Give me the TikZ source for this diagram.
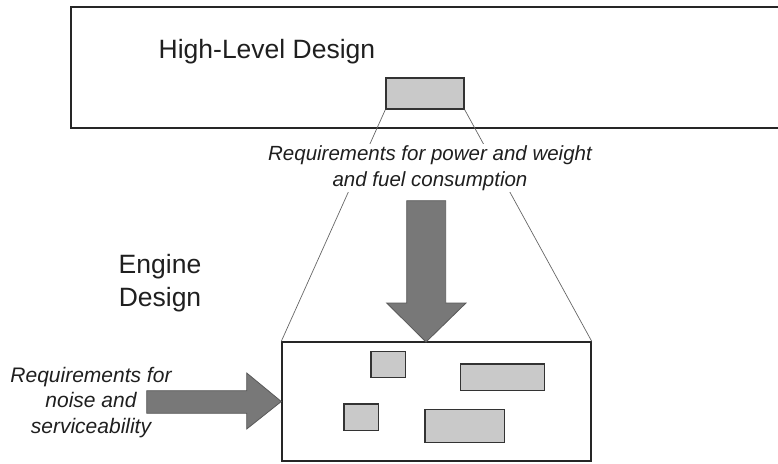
\documentclass[tikz,border=0pt]{standalone}
\usepackage{fontspec}
\setmainfont{Liberation Sans}
\begin{document}
\begin{tikzpicture}[x=1pt,y=-1pt,
  frame/.style={draw=black!85, line width=1.4pt},
  gbox/.style={draw=black!80, line width=1.4pt, fill=black!21, inner sep=0pt},
  ebox/.style={draw=black!85, line width=1.4pt, fill=white, inner sep=0pt},
  thinline/.style={draw=black!60, line width=0.7pt},
  bigarrow/.style={fill=black!53, draw=black!65, line width=0.8pt, line join=miter},
  lbl/.style={inner sep=0pt, align=center, text=black!88},
  ilbl/.style={inner sep=1pt, align=center, text=black!88, fill=white, font=\fontsize{20.5}{26}\selectfont\itshape}
]
\useasboundingbox (0,0) rectangle (778,463);
% top frame (open at right)
\draw[frame] (800,7) -- (71,7) -- (71,128) -- (800,128);
\node[lbl, anchor=base west, font=\fontsize{26.5}{32}\selectfont] (hld) at (158.5,58.3) {High-Level Design};
\node[gbox, minimum width=78pt, minimum height=31pt] (hb) at (425,93.5) {};
% engine box
\node[ebox, minimum width=309pt, minimum height=119pt] (eng) at (436.5,401.5) {};
% zoom lines
\draw[thinline] (hb.south west) -- (eng.north west);
\draw[thinline] (hb.south east) -- (eng.north east);
% label over lines
\node[ilbl] (req1) at (430,168) {Requirements for power and weight\\and fuel consumption};
% down arrow
\coordinate (dtip) at (426,342);
\draw[bigarrow] (406.7,200.7) -- (445.7,200.7) -- (445.7,303) -- (466,303) -- (dtip) -- (386.7,303) -- (406.7,303) -- cycle;
% left arrow
\coordinate (ltip) at (eng.west);
\draw[bigarrow] (146.7,390.7) -- (246.7,390.7) -- (246.7,373) -- (ltip) -- (246.7,429) -- (246.7,413.3) -- (146.7,413.3) -- cycle;
% components inside engine box
\node[gbox, minimum width=34.7pt, minimum height=26pt] (c1) at (388.3,364.7) {};
\node[gbox, minimum width=84.4pt, minimum height=26.7pt] (c2) at (502.5,377.3) {};
\node[gbox, minimum width=34.7pt, minimum height=26.3pt] (c3) at (361.3,417.2) {};
\node[gbox, minimum width=79.7pt, minimum height=33pt] (c4) at (464.8,426.2) {};
% labels
\node[lbl, font=\fontsize{26.5}{32.7}\selectfont] (engl) at (160,283.4) {Engine\\Design};
\node[lbl, font=\fontsize{21}{25.5}\selectfont\itshape] (req2) at (91,402.5) {Requirements for\\noise and\\serviceability};
\end{tikzpicture}
\end{document}
